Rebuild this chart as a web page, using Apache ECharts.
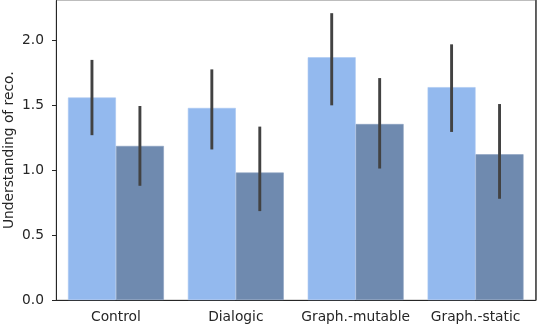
<!DOCTYPE html>
<html>
<head>
<meta charset="utf-8">
<script src="https://cdn.jsdelivr.net/npm/echarts@6/dist/echarts.min.js"></script>
<style>html,body{margin:0;padding:0;background:#fff}#c{width:537px;height:325px}</style>
</head>
<body>
<div id="c"></div>
<script>
const categories = ['Control', 'Dialogic', 'Graph.-mutable', 'Graph.-static'];
const hue1Values = [1.56, 1.48, 1.87, 1.64];
const hue1Low = [1.27, 1.16, 1.50, 1.295];
const hue1High = [1.85, 1.777, 2.21, 1.97];
const hue2Values = [1.187, 0.982, 1.356, 1.123];
const hue2Low = [0.88, 0.685, 1.013, 0.78];
const hue2High = [1.495, 1.336, 1.71, 1.51];
const yTicks = [0.0, 0.5, 1.0, 1.5, 2.0];
const yLabel = 'Understanding of reco.';

const FONT = 'DejaVu Sans';
const TXT = '#262626';

function errData(low, high) {
  return categories.map((c, i) => [i, low[i], high[i]]);
}
function errSeries(low, high, side) {
  return {
    type: 'custom',
    data: errData(low, high),
    z: 10,
    renderItem: function (params, api) {
      const idx = api.value(0);
      const band = api.size([1, 0])[0];
      const p1 = api.coord([idx, api.value(1)]);
      const p2 = api.coord([idx, api.value(2)]);
      const x = p1[0] + side * band * 0.2;
      return {
        type: 'line',
        shape: { x1: x, y1: p1[1], x2: x, y2: p2[1] },
        style: { stroke: '#424242', lineWidth: 2.9 }
      };
    }
  };
}

const chart = echarts.init(document.getElementById('c'), null, { renderer: 'canvas' });
chart.setOption({
  animation: false,
  backgroundColor: '#fff',
  grid: { left: 56, right: 1.5, top: 0.5, bottom: 25, show: true, borderColor: '#bdbdbd', borderWidth: 1, containLabel: false, outerBoundsMode: 'none' },
  xAxis: {
    type: 'category',
    data: categories,
    axisLine: { lineStyle: { color: TXT, width: 1 } },
    axisTick: { alignWithLabel: true, length: 4, lineStyle: { color: TXT } },
    axisLabel: { color: TXT, fontFamily: FONT, fontSize: 13.8, margin: 10, interval: 0, hideOverlap: false }
  },
  yAxis: [{
    type: 'value',
    min: 0,
    max: 2.3077,
    interval: 0.5,
    position: 'left',
    splitLine: { show: false },
    axisLine: { show: true, lineStyle: { color: TXT, width: 1 } },
    axisTick: { show: true, length: 4, lineStyle: { color: TXT } },
    axisLabel: {
      color: TXT, fontFamily: FONT, fontSize: 13.8, margin: 12,
      showMaxLabel: false,
      formatter: function (v) { return yTicks.indexOf(v) >= 0 ? v.toFixed(1) : ''; }
    },
    name: yLabel,
    nameLocation: 'middle',
    nameGap: 40,
    nameMoveOverlap: false,
    nameTextStyle: { color: TXT, fontFamily: FONT, fontSize: 13.8 }
  }, {
    type: 'value',
    min: 0,
    max: 2.3077,
    position: 'right',
    splitLine: { show: false },
    axisLine: { show: true, lineStyle: { color: '#3a3a3a', width: 1.5 } },
    axisTick: { show: false },
    axisLabel: { show: false }
  }],
  series: [
    {
      type: 'bar', data: hue1Values, barGap: '0%', barCategoryGap: '20%',
      itemStyle: { color: '#93b9ee', borderColor: '#a9c8f2', borderWidth: 0.6 }
    },
    {
      type: 'bar', data: hue2Values, barGap: '0%', barCategoryGap: '20%',
      itemStyle: { color: '#6f8aaf', borderColor: '#8aa0c0', borderWidth: 0.6 }
    },
    errSeries(hue1Low, hue1High, -1),
    errSeries(hue2Low, hue2High, 1)
  ]
});
</script>
</body>
</html>
